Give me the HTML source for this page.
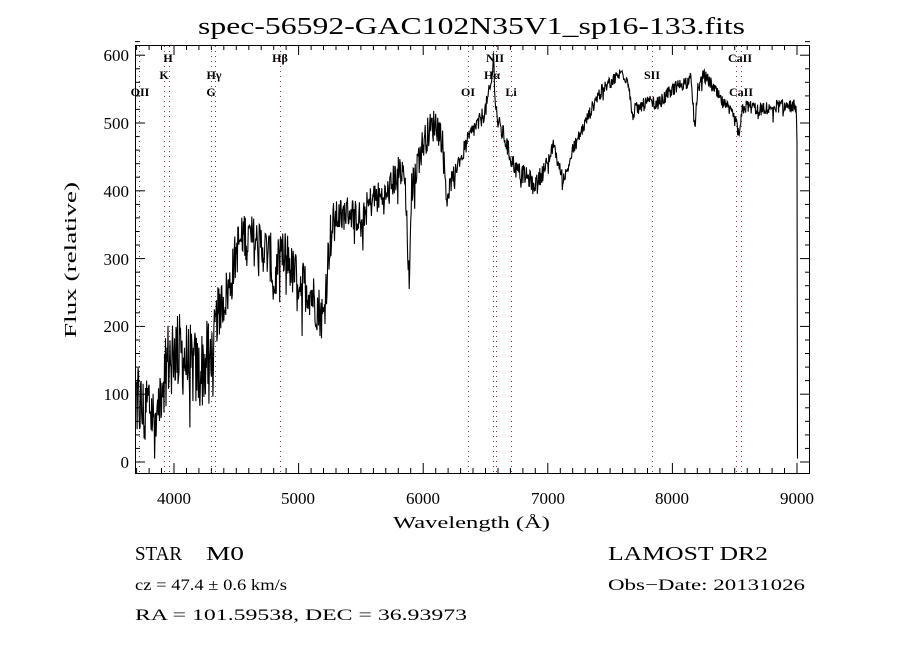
<!DOCTYPE html>
<html><head><meta charset="utf-8">
<style>
html,body{margin:0;padding:0;background:#fff;}
svg{display:block;}
text{font-family:"Liberation Serif",serif;fill:#000;}
</style></head><body>
<svg id="s" width="900" height="650" xmlns="http://www.w3.org/2000/svg">
<rect width="900" height="650" fill="#fff"/>
<text x="198" y="34" font-size="24" textLength="547" lengthAdjust="spacingAndGlyphs">spec-56592-GAC102N35V1_sp16-133.fits</text>
<g id="ax"></g>
<g id="lines" stroke="#8b3a3a" stroke-width="1" stroke-dasharray="1,4"></g>
<path id="sp" fill="none" stroke="#000" stroke-width="1.1"/>
<rect x="135.5" y="45.5" width="674" height="428" fill="none" stroke="#000" stroke-width="1"/>
<g font-size="12" text-anchor="middle" font-weight="bold">
<text x="140" y="96">OII</text>
<text x="168" y="62">H</text>
<text x="164" y="79">K</text>
<text x="214" y="79">Hγ</text>
<text x="211" y="96">G</text>
<text x="280" y="62">Hβ</text>
<text x="495" y="62">NII</text>
<text x="492" y="79">Hα</text>
<text x="468" y="96">OI</text>
<text x="511" y="96">Li</text>
<text x="652" y="79">SII</text>
<text x="740" y="62">CaII</text>
<text x="741" y="96">CaII</text>
</g>
<g font-size="17" text-anchor="middle">
<text x="174" y="504">4000</text>
<text x="298" y="504">5000</text>
<text x="423" y="504">6000</text>
<text x="548" y="504">7000</text>
<text x="672" y="504">8000</text>
<text x="797" y="504">9000</text>
</g>
<g font-size="17" text-anchor="end">
<text x="129" y="468">0</text>
<text x="129" y="400">100</text>
<text x="129" y="332">200</text>
<text x="129" y="265">300</text>
<text x="129" y="197">400</text>
<text x="129" y="129">500</text>
<text x="129" y="61">600</text>
</g>
<text x="393" y="528" font-size="17" textLength="157" lengthAdjust="spacingAndGlyphs">Wavelength (Å)</text>
<text transform="translate(76,338) rotate(-90)" font-size="17" textLength="156" lengthAdjust="spacingAndGlyphs">Flux (relative)</text>
<text x="135" y="560" font-size="20" textLength="47" lengthAdjust="spacingAndGlyphs">STAR</text>
<text x="206" y="560" font-size="20" textLength="38" lengthAdjust="spacingAndGlyphs">M0</text>
<text x="608" y="560" font-size="20" textLength="160" lengthAdjust="spacingAndGlyphs">LAMOST DR2</text>
<text x="135" y="590" font-size="16" textLength="152" lengthAdjust="spacingAndGlyphs">cz = 47.4 ± 0.6 km/s</text>
<text x="608" y="590" font-size="16" textLength="197" lengthAdjust="spacingAndGlyphs">Obs−Date: 20131026</text>
<text x="135" y="620" font-size="16" textLength="332" lengthAdjust="spacingAndGlyphs">RA = 101.59538, DEC =  36.93973</text>
</svg>
<script>
var X=function(l){return 174+(l-4000)*0.1246;};
var Y=function(f){return 462-f*0.678;};
var ax='';
for(var l=3700;l<=9100;l+=100){var x=X(l).toFixed(1);var L=(l%1000==0)?10:5;
ax+='<line x1="'+x+'" y1="473" x2="'+x+'" y2="'+(473-L)+'" stroke="#000"/>';
ax+='<line x1="'+x+'" y1="45" x2="'+x+'" y2="'+(45+L)+'" stroke="#000"/>';}
for(var f=0;f<=620;f+=20){var y=Y(f).toFixed(1);var L=(f%100==0)?10:5;
ax+='<line x1="135" y1="'+y+'" x2="'+(135+L)+'" y2="'+y+'" stroke="#000"/>';
ax+='<line x1="810" y1="'+y+'" x2="'+(810-L)+'" y2="'+y+'" stroke="#000"/>';}
document.getElementById('ax').innerHTML=ax;
var lx=[139,164,169,211,215,280,468,493,496,511,652,736,741],ls='';
lx.forEach(function(x){ls+='<line x1="'+x+'.5" y1="46" x2="'+x+'.5" y2="473"/>';});
document.getElementById('lines').innerHTML=ls;
var K=[[3700,100],[3750,70],[3800,90],[3850,50],[3900,120],[3950,150],[4000,170],[4100,150],[4200,130],[4300,160],[4350,220],[4400,240],[4450,260],[4500,310],[4550,340],[4600,330],[4700,320],[4780,300],[4800,250],[4830,290],[4900,310],[4950,280],[5000,270],[5100,250],[5150,230],[5200,210],[5220,260],[5250,330],[5300,360],[5400,370],[5500,360],[5600,390],[5700,390],[5800,430],[5850,420],[5880,300],[5890,240],[5905,400],[5950,440],[6000,470],[6050,490],[6100,500],[6150,480],[6190,390],[6250,430],[6300,450],[6400,490],[6450,500],[6500,520],[6550,560],[6563,600],[6580,530],[6600,500],[6650,480],[6700,450],[6750,430],[6800,425],[6900,410],[7000,440],[7050,470],[7080,440],[7120,420],[7150,425],[7200,460],[7300,500],[7400,540],[7500,560],[7600,575],[7650,560],[7680,510],[7700,520],[7800,530],[7900,530],[8000,550],[8100,560],[8150,565],[8180,490],[8200,550],[8250,570],[8300,560],[8400,530],[8450,520],[8500,505],[8540,480],[8560,520],[8600,525],[8700,520],[8800,525],[8900,525],[8990,525],[9000,480],[9005,0]];
var seed=12345;function r(){seed=(seed*1103515245+12345)%2147483648;return seed/2147483648-0.5;}
function base(l){for(var i=0;i<K.length-1;i++){if(l<=K[i+1][0]){var t=(l-K[i][0])/(K[i+1][0]-K[i][0]);return K[i][1]+t*(K[i+1][1]-K[i][1]);}}return 0;}
var d='';
for(var l=3700;l<=9005;l+=4){var b=base(l);var a=l<4300?120:(l<5300?75:(l<6200?50:(l<7000?28:20)));
var f=l>=9003?0:b+r()*a;
if(r()>0.45)f-=a*0.8*(r()+0.5);
if(f<5)f=5;
d+=(d?'L':'M')+X(l).toFixed(1)+' '+Y(f).toFixed(1);}
document.getElementById('sp').setAttribute('d',d);
</script>
</body></html>
